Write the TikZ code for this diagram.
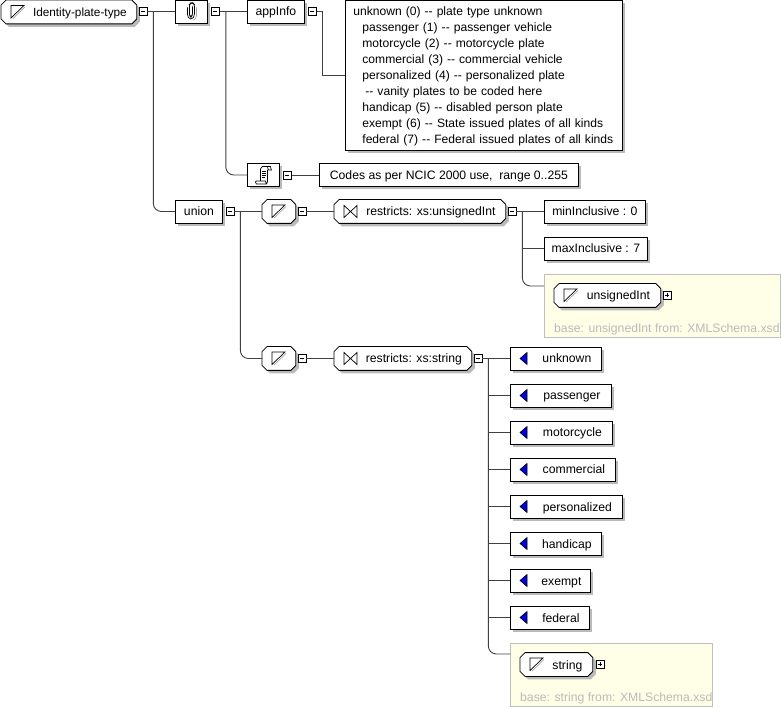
\documentclass[tikz,border=0pt]{standalone}
\usepackage{fontspec}
\setmainfont{Liberation Sans}
\usetikzlibrary{shadows}
\newcommand{\dd}{-{}-}
\makeatletter
\pgfdeclareshape{xsdoctagon}{
    \inheritsavedanchors[from=rectangle]
    \inheritanchorborder[from=rectangle]
    \inheritanchor[from=rectangle]{center}
    \inheritanchor[from=rectangle]{north}
    \inheritanchor[from=rectangle]{south}
    \inheritanchor[from=rectangle]{west}
    \inheritanchor[from=rectangle]{east}
    \backgroundpath{
        \southwest \pgf@xa=\pgf@x \pgf@ya=\pgf@y
        \northeast \pgf@xb=\pgf@x \pgf@yb=\pgf@y
        \pgfpathmoveto{\pgfqpoint{\dimexpr\pgf@xa+5pt\relax}{\pgf@ya}}
        \pgfpathlineto{\pgfqpoint{\dimexpr\pgf@xb-5pt\relax}{\pgf@ya}}
        \pgfpathlineto{\pgfqpoint{\pgf@xb}{\dimexpr\pgf@ya+5pt\relax}}
        \pgfpathlineto{\pgfqpoint{\pgf@xb}{\dimexpr\pgf@yb-5pt\relax}}
        \pgfpathlineto{\pgfqpoint{\dimexpr\pgf@xb-5pt\relax}{\pgf@yb}}
        \pgfpathlineto{\pgfqpoint{\dimexpr\pgf@xa+5pt\relax}{\pgf@yb}}
        \pgfpathlineto{\pgfqpoint{\pgf@xa}{\dimexpr\pgf@yb-5pt\relax}}
        \pgfpathlineto{\pgfqpoint{\pgf@xa}{\dimexpr\pgf@ya+5pt\relax}}
        \pgfpathclose
    }
}
\makeatother
\begin{document}
\begin{tikzpicture}[
        x=1pt, y=-1pt,
        every node/.style={font=\fontsize{12.2}{16}\selectfont},
        line/.style={draw=black!75, line width=0.9pt},
        xsdShadow/.style={drop shadow={shadow xshift=3pt, shadow yshift=-3pt, fill=black!27, opacity=1}},
        xsdBox/.style={rectangle, draw, fill=white, line width=0.8pt, xsdShadow, inner sep=0pt, anchor=west, minimum height=23pt, text height=9pt, text depth=0pt},
        xsdOct/.style={xsdoctagon, draw, fill=white, line width=0.8pt, xsdShadow, inner sep=0pt, anchor=west, minimum height=23pt, text height=9pt, text depth=0pt},
        xsdToggle/.style={rectangle, draw, fill=white, line width=0.7pt, inner sep=0pt, minimum width=8pt, minimum height=8pt},
        xsdBase/.style={rectangle, draw=black!25, fill=yellow!10, line width=0.8pt, anchor=north west, minimum width=#1, minimum height=63pt},
        xsdNote/.style={text=black!27, anchor=west, inner sep=0pt},
        simpleIcon/.pic={
            \draw[black!35, line width=0.7pt] (2,6.5) -- (14,-5);
            \draw[line width=0.7pt] (0,6) -- (0,-6.5) -- (13,-6.5) -- cycle;
        },
        facetIcon/.pic={
            \draw[line width=0.7pt] (0,-6) -- (13,6) -- (13,-6) -- (0,6) -- cycle;
        },
        enumIcon/.pic={
            \draw[fill=blue!90!black, line width=0.6pt] (0,0) -- (7,-6) -- (7,6) -- cycle;
        },
        clipIcon/.pic={
            \draw[black!35, line width=0.7pt, rounded corners=1.5pt] (5,-4) -- (5,6) -- (2,9);
            \draw[line width=0.7pt, rounded corners=1.5pt] (-4,-4) -- (-4,4) -- (-2,7.5) -- (1,7.5) -- (3,4) -- (3,-7) -- (1.5,-8.5) -- (-0.5,-8.5) -- (-2,-7) -- (-2,4) -- (-0.5,5.5) -- (1,4) -- (1,-5);
        },
        scrollIcon/.pic={
            \draw[line width=0.7pt] (-3,6) -- (-3,-6) -- (-1,-8.5) -- (7,-8.5) -- (8,-5) -- (5,-5) -- (4,-8.5) (4,-5) -- (4,7) -- (3,9) -- (-7,9) -- (-8,7) -- (-7,6) -- (2,6) -- (3,9);
            \draw[line width=0.7pt] (-1,-4) -- (3,-4) (-1,-2) -- (3,-2) (-1,0) -- (3,0) (-1,2) -- (2,2);
        }
    ]
        \useasboundingbox (0,0) rectangle (782,708);

        % yellow panels go underneath
        \node[xsdBase=236pt] (uintPanel) at (544,274) {};
        \node[xsdBase=202pt] (stringPanel) at (510,643) {};

        % left part of the tree
        \node[xsdOct, minimum width=135pt, font=\fontsize{11.8}{16}\selectfont] (root) at (1,12) {\hspace*{22pt}Identity-plate-type};
        \node[xsdToggle] (rootToggle) at (143,11.5) {};
        \node[xsdBox, minimum width=32pt] (annotation) at (175,11.5) {};
        \node[xsdToggle] (annotationToggle) at (215.5,11.5) {};
        \node[xsdBox, minimum width=57pt] (appInfo) at (247,11.5) {appInfo};
        \node[xsdToggle] (appInfoToggle) at (312.5,11.5) {};
        \node[xsdBox, minimum width=277pt, minimum height=150pt, align=left, text width=261pt, text height=9pt, text depth=127pt, font=\fontsize{12.1}{16}\selectfont] (plateCodes) at (345,75) {%
            unknown (0) \dd{} plate type unknown\\
            \hspace*{9pt}passenger (1) \dd{} passenger vehicle\\
            \hspace*{9pt}motorcycle (2) \dd{} motorcycle plate\\
            \hspace*{9pt}commercial (3) \dd{} commercial vehicle\\
            \hspace*{9pt}personalized (4) \dd{} personalized plate\\
            \hspace*{12pt}\dd{} vanity plates to be coded here\\
            \hspace*{9pt}handicap (5) \dd{} disabled person plate\\
            \hspace*{9pt}exempt (6) \dd{} State issued plates of all kinds\\
            \hspace*{9pt}federal (7) \dd{} Federal issued plates of all kinds};
        \node[xsdBox, minimum width=32pt] (documentation) at (247,175) {};
        \node[xsdToggle] (documentationToggle) at (287.5,175) {};
        \node[xsdBox, minimum width=259pt] (codesNote) at (319,175) {Codes as per NCIC 2000 use,\ \ range 0..255};

        \node[xsdBox, minimum width=47pt] (union) at (175,211.5) {union};
        \node[xsdToggle] (unionToggle) at (230,211.5) {};

        % first member type
        \node[xsdOct, minimum width=33pt] (simpleUint) at (262,211.5) {};
        \node[xsdToggle] (simpleUintToggle) at (302,211.5) {};
        \node[xsdOct, minimum width=171pt] (restrictUint) at (334,211.5) {\hspace*{22pt}restricts: xs:unsignedInt};
        \node[xsdToggle] (restrictUintToggle) at (512,211.5) {};
        \node[xsdBox, minimum width=101pt] (minInc) at (544,211.5) {minInclusive : 0};
        \node[xsdBox, minimum width=103pt] (maxInc) at (544,248.5) {maxInclusive : 7};
        \node[xsdOct, minimum width=106pt] (uintBase) at (554,295.5) {\hspace*{22pt}unsignedInt};
        \node[xsdToggle] (uintBaseToggle) at (667.5,295.5) {};
        \node[xsdNote] (uintNote) at (554,329) {base: unsignedInt from: XMLSchema.xsd};

        % second member type
        \node[xsdOct, minimum width=33pt] (simpleString) at (262,358.5) {};
        \node[xsdToggle] (simpleStringToggle) at (302,358.5) {};
        \node[xsdOct, minimum width=137pt] (restrictString) at (334,358.5) {\hspace*{22pt}restricts: xs:string};
        \node[xsdToggle] (restrictStringToggle) at (478,358.5) {};
        \node[xsdBox, minimum width=91pt] (unknown) at (510,358.5) {\hspace*{22pt}unknown};
        \node[xsdBox, minimum width=101pt] (passenger) at (510,395.5) {\hspace*{22pt}passenger};
        \node[xsdBox, minimum width=102pt] (motorcycle) at (510,432.5) {\hspace*{22pt}motorcycle};
        \node[xsdBox, minimum width=105pt] (commercial) at (510,469.5) {\hspace*{22pt}commercial};
        \node[xsdBox, minimum width=112pt] (personalized) at (510,506.5) {\hspace*{22pt}personalized};
        \node[xsdBox, minimum width=91pt] (handicap) at (510,543.5) {\hspace*{22pt}handicap};
        \node[xsdBox, minimum width=80pt] (exempt) at (510,580.5) {\hspace*{22pt}exempt};
        \node[xsdBox, minimum width=79pt] (federal) at (510,617.5) {\hspace*{22pt}federal};
        \node[xsdOct, minimum width=72pt] (stringBase) at (520,664.5) {\hspace*{22pt}string};
        \node[xsdToggle] (stringBaseToggle) at (600,664.5) {};
        \node[xsdNote] (stringNote) at (520,698) {base: string from: XMLSchema.xsd};

        % icons
        \pic at ([xshift=10pt]root.west) {simpleIcon};
        \pic at ([xshift=10pt]simpleUint.west) {simpleIcon};
        \pic at ([xshift=10pt]simpleString.west) {simpleIcon};
        \pic at ([xshift=10pt]uintBase.west) {simpleIcon};
        \pic at ([xshift=10pt]stringBase.west) {simpleIcon};
        \pic at ([xshift=10pt]restrictUint.west) {facetIcon};
        \pic at ([xshift=10pt]restrictString.west) {facetIcon};
        \pic at ([xshift=10pt]unknown.west) {enumIcon};
        \pic at ([xshift=10pt]passenger.west) {enumIcon};
        \pic at ([xshift=10pt]motorcycle.west) {enumIcon};
        \pic at ([xshift=10pt]commercial.west) {enumIcon};
        \pic at ([xshift=10pt]personalized.west) {enumIcon};
        \pic at ([xshift=10pt]handicap.west) {enumIcon};
        \pic at ([xshift=10pt]exempt.west) {enumIcon};
        \pic at ([xshift=10pt]federal.west) {enumIcon};
        \pic at (annotation.center) {clipIcon};
        \pic at (documentation.center) {scrollIcon};

        % toggle signs
        \draw (rootToggle.west) ++(2,0) -- ++(4,0);
        \draw (annotationToggle.west) ++(2,0) -- ++(4,0);
        \draw (appInfoToggle.west) ++(2,0) -- ++(4,0);
        \draw (documentationToggle.west) ++(2,0) -- ++(4,0);
        \draw (unionToggle.west) ++(2,0) -- ++(4,0);
        \draw (simpleUintToggle.west) ++(2,0) -- ++(4,0);
        \draw (restrictUintToggle.west) ++(2,0) -- ++(4,0);
        \draw (simpleStringToggle.west) ++(2,0) -- ++(4,0);
        \draw (restrictStringToggle.west) ++(2,0) -- ++(4,0);
        \draw (uintBaseToggle.west) ++(2,0) -- ++(4,0) (uintBaseToggle.north) ++(0,2) -- ++(0,4);
        \draw (stringBaseToggle.west) ++(2,0) -- ++(4,0) (stringBaseToggle.north) ++(0,2) -- ++(0,4);

        % fork points of the tree
        \coordinate (rootFork) at ([xshift=6pt]rootToggle.east);
        \coordinate (annotationFork) at ([xshift=6pt]annotationToggle.east);
        \coordinate (appInfoFork) at ([xshift=6pt]appInfoToggle.east);
        \coordinate (unionFork) at ([xshift=6pt]unionToggle.east);
        \coordinate (uintFork) at ([xshift=6pt]restrictUintToggle.east);
        \coordinate (stringFork) at ([xshift=6pt]restrictStringToggle.east);
        \coordinate (uintEntry) at (544,286);
        \coordinate (stringEntry) at (510,654);

        % connectors
        \draw[line] (rootToggle) -- (annotation);
        \draw[line, rounded corners=8pt] (rootFork) |- (union);
        \draw[line] (annotationToggle) -- (appInfo);
        \draw[line, rounded corners=8pt] (annotationFork) |- (documentation);
        \draw[line] (appInfoToggle) -- (appInfoFork) |- (plateCodes);
        \draw[line] (documentationToggle) -- (codesNote);
        \draw[line] (unionToggle) -- (simpleUint);
        \draw[line, rounded corners=8pt] (unionFork) |- (simpleString);
        \draw[line] (simpleUintToggle) -- (restrictUint);
        \draw[line] (restrictUintToggle) -- (minInc);
        \draw[line] (uintFork) |- (maxInc);
        \draw[line, rounded corners=8pt] (uintFork) |- (uintEntry);
        \draw[line] (simpleStringToggle) -- (restrictString);
        \draw[line] (restrictStringToggle) -- (unknown);
        \draw[line] (stringFork) |- (passenger);
        \draw[line] (stringFork) |- (motorcycle);
        \draw[line] (stringFork) |- (commercial);
        \draw[line] (stringFork) |- (personalized);
        \draw[line] (stringFork) |- (handicap);
        \draw[line] (stringFork) |- (exempt);
        \draw[line] (stringFork) |- (federal);
        \draw[line, rounded corners=8pt] (stringFork) |- (stringEntry);
    \end{tikzpicture}
\end{document}
